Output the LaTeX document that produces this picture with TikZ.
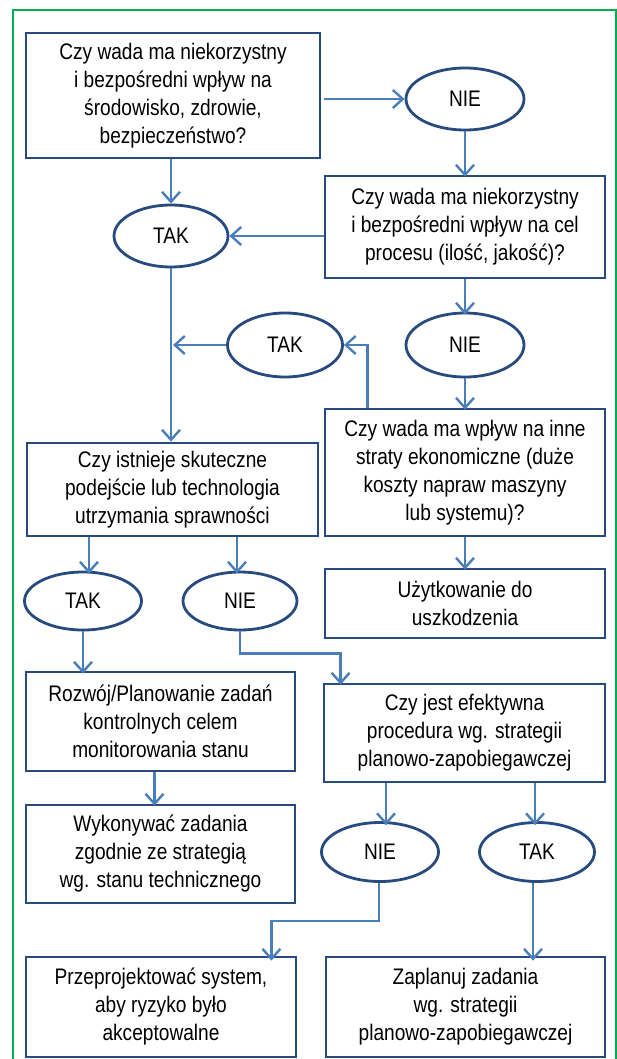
\documentclass[tikz,border=0pt]{standalone}
\usepackage{fontspec}
\setmainfont{Liberation Sans}[FakeStretch=0.85]
\usetikzlibrary{shapes.geometric,arrows.meta,calc}
\definecolor{boxc}{HTML}{274B7E}
\definecolor{arrc}{HTML}{4A7EBB}
\definecolor{framegreen}{HTML}{00B050}
\begin{document}
\begin{tikzpicture}[x=1pt,y=-1pt,
 box/.style={draw=boxc, line width=2.8pt, rectangle, align=center, inner sep=0pt, font=\fontsize{22.5}{28}\selectfont},
 oval/.style={draw=boxc, line width=2.8pt, ellipse, inner sep=0pt, font=\fontsize{22.5}{28}\selectfont},
 arr/.style={draw=arrc, line width=2.4pt, -{Straight Barb[length=10pt,width=18pt]}},
 ln/.style={draw=arrc, line width=2.4pt}]
\useasboundingbox (0,0) rectangle (617,1059);
\draw[framegreen, line width=2.4pt] (13,1059) -- (13,10) -- (616,10) -- (616,1059);

\node[box, minimum width=294pt, minimum height=125pt] (b1) at (173,95.5)
 {Czy wada ma niekorzystny\\ i bezpośredni wpływ na\\ środowisko, zdrowie,\\ bezpieczeństwo?};
\node[oval, minimum width=118pt, minimum height=62pt] (n1) at (465,99) {NIE};
\node[box, minimum width=280pt, minimum height=102pt] (b2) at (465,227)
 {Czy wada ma niekorzystny\\ i bezpośredni wpływ na cel\\ procesu (ilość, jakość)?};
\node[oval, minimum width=114pt, minimum height=62pt] (t1) at (171,236) {TAK};
\node[oval, minimum width=115pt, minimum height=64pt] (t2) at (285,345) {TAK};
\node[oval, minimum width=118pt, minimum height=64pt] (n2) at (465,345) {NIE};
\node[box, minimum width=280pt, minimum height=127pt] (b4) at (465,472.5)
 {Czy wada ma wpływ na inne\\ straty ekonomiczne (duże\\ koszty napraw maszyny\\ lub systemu)?};
\node[box, minimum width=291pt, minimum height=93pt] (b3) at (172.5,489.5)
 {Czy istnieje skuteczne\\ podejście lub technologia\\ utrzymania sprawności};
\node[box, minimum width=280pt, minimum height=69pt] (b5) at (465,603.5)
 {Użytkowanie do\\ uszkodzenia};
\node[oval, minimum width=117pt, minimum height=58pt] (t3) at (83,601) {TAK};
\node[oval, minimum width=114pt, minimum height=58pt] (n3) at (240,601) {NIE};
\node[box, minimum width=269pt, minimum height=99pt] (b6) at (160.5,721.5)
 {Rozwój/Planowanie zadań\\ kontrolnych celem\\ monitorowania stanu};
\node[box, minimum width=281pt, minimum height=98pt] (b8) at (464.5,733)
 {Czy jest efektywna\\ procedura wg. strategii\\ planowo-zapobiegawczej};
\node[box, minimum width=269pt, minimum height=98pt] (b7) at (160.5,854)
 {Wykonywać zadania\\ zgodnie ze strategią\\ wg. stanu technicznego};
\node[oval, minimum width=117pt, minimum height=59pt] (n4) at (380,852) {NIE};
\node[oval, minimum width=115pt, minimum height=59pt] (t4) at (537,852) {TAK};
\node[box, minimum width=270pt, minimum height=100pt] (b9) at (161,1007)
 {Przeprojektować system,\\ aby ryzyko było\\ akceptowalne};
\node[box, minimum width=279pt, minimum height=100pt] (b10) at (465.5,1007)
 {Zaplanuj zadania\\ wg. strategii\\ planowo-zapobiegawczej};

% connectors
\draw[arr] ([xshift=3pt]b1.east |- n1.west) -- (n1.west);
\draw[arr] (n1.south) -- ([yshift=-2pt]b2.north);
\draw[arr] (t1 |- b1.south) -- (t1.north);
\draw[arr] (b2.west |- t1.east) -- (t1.east);
\draw[arr] (t1.south) -- (t1 |- b3.north);
\draw[arr] (t2.west) -- ([xshift=2pt]t1 |- t2.west);
\draw[arr] (b2.south) -- ([yshift=-3pt]n2.north);
\draw[arr] (n2.south) -- ([yshift=-2pt]b4.north);
\draw[arr] ([xshift=44pt]b4.north west) |- (t2.east);
\draw[arr] (b4.south) -- ([yshift=-2pt]b5.north);
\draw[arr] ([xshift=6pt]t3.north |- b3.south) -- ([xshift=6pt,yshift=-3pt]t3.north);
\draw[arr] ([xshift=-3pt]n3.north |- b3.south) -- ([xshift=-3pt,yshift=-3pt]n3.north);
\draw[arr] (t3.south) -- ([yshift=-3pt]t3 |- b6.north);
\draw[arr] (n3.south) -- ++(0,22) -| ([xshift=18pt,yshift=-2pt]b8.north west);
\draw[arr] ([xshift=-6pt]b6.south) -- ([xshift=-6pt,yshift=-2pt]b7.north);
\draw[arr] ([xshift=6pt]n4.north |- b8.south) -- ([xshift=6pt,yshift=-4pt]n4.north);
\draw[arr] ([xshift=-2pt]t4.north |- b8.south) -- ([xshift=-2pt,yshift=-4pt]t4.north);
\draw[arr] ([xshift=-1pt]n4.south) -- ++(0,38) -| ([xshift=-26pt,yshift=-5pt]b9.north east);
\draw[arr] ([xshift=-4pt]t4.south) -- ([xshift=-4pt,yshift=-5pt]t4.south |- b10.north);
\end{tikzpicture}
\end{document}
